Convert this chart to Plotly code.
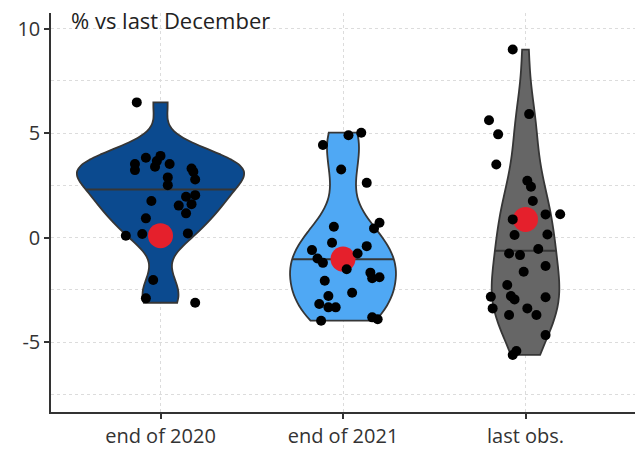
import numpy as np
import plotly.graph_objects as go

# ---------------- data ----------------
categories = ["end of 2020", "end of 2021", "last obs."]

values_2020 = [6.47, 3.82, 3.91, 3.52, 3.23, 3.66, 3.39, 3.52, 3.31, 3.15, 2.78, 2.88, 2.51,
               1.75, 1.95, 2.03, 1.53, 1.60, 1.16, 0.92, 0.09, 0.17, 0.20, -2.03, -2.91, -3.12]
jitter_2020 = [-0.13, -0.08, 0.00, -0.14, -0.14, -0.02, -0.03, 0.05, 0.17, 0.18, 0.19, 0.04, 0.04,
               -0.05, 0.14, 0.19, 0.10, 0.17, 0.14, -0.08, -0.19, -0.10, 0.15, -0.04, -0.08, 0.19]

values_2021 = [4.43, 4.90, 5.02, 3.26, 2.62, 0.52, 0.71, 0.44, -0.25, -0.60, -0.41, -0.76, -1.00,
               -1.21, -1.52, -1.68, -1.95, -1.90, -2.07, -2.64, -2.80, -3.18, -3.34, -3.34, -3.98,
               -3.82, -3.91]
jitter_2021 = [-0.11, 0.03, 0.10, -0.01, 0.13, -0.05, 0.20, 0.17, -0.06, -0.17, 0.13, 0.08, -0.14,
               -0.11, 0.02, 0.15, 0.16, 0.20, -0.10, 0.05, -0.08, -0.13, -0.08, -0.04, -0.12,
               0.16, 0.19]

values_last = [9.00, 5.91, 5.62, 4.94, 3.50, 2.72, 2.43, 1.75, 0.87, 1.11, 1.12, 0.12, 0.15, -0.55,
               -0.76, -0.84, -1.36, -1.64, -2.27, -2.83, -2.80, -2.96, -2.86, -3.39, -3.39, -3.71,
               -3.71, -4.67, -5.43, -5.62]
jitter_last = [-0.07, 0.02, -0.20, -0.15, -0.16, 0.01, 0.03, 0.04, -0.07, 0.11, 0.19, -0.06, 0.12,
               0.07, -0.09, -0.03, 0.11, -0.01, -0.10, -0.19, -0.08, -0.06, 0.11, -0.18, 0.01,
               -0.09, 0.06, 0.11, -0.05, -0.07]

highlight = [0.09, -1.03, 0.87]   # red dots

groups = [values_2020, values_2021, values_last]
jitters = [jitter_2020, jitter_2021, jitter_last]

# styles
fills = ["#0B4A8F", "#4FA8F4", "#666666"]
violin_widths = [0.913, 0.58, 0.37]   # max violin width (x units) per category


# ---------------- helpers (ggplot-like violin statistics) ----------------
def bw_nrd0(v):
    v = np.asarray(v, float)
    sd = v.std(ddof=1)
    iqr = np.subtract(*np.percentile(v, [75, 25]))
    lo = min(sd, iqr / 1.34)
    return 0.9 * lo * len(v) ** (-0.2)


def kde(v, bw, t):
    v = np.asarray(v, float)
    z = (t[:, None] - v[None, :]) / bw
    return np.exp(-0.5 * z ** 2).sum(axis=1) / (len(v) * bw * np.sqrt(2 * np.pi))


stats = []
for v in groups:
    bw = bw_nrd0(v)
    grid = np.linspace(min(v), max(v), 512)
    d = kde(v, bw, grid)
    cdf = np.cumsum(d) / d.sum()
    med = float(np.interp(0.5, cdf, grid))
    stats.append(dict(bw=bw, maxk=d.max(), med=med, kmed=float(kde(v, bw, np.array([med]))[0])))

fig = go.Figure()

# violins
for i, v in enumerate(groups):
    s = stats[i]
    w = violin_widths[i]
    s["w"] = w
    fig.add_trace(go.Violin(
        y=v, x0=i, width=w, bandwidth=s["bw"], spanmode="hard",
        fillcolor=fills[i], line=dict(color="#363636", width=1.8),
        points=False, box_visible=False, meanline_visible=False,
        opacity=1, showlegend=False, hoverinfo="skip"))

# median lines
for i, s in enumerate(stats):
    half = s["kmed"] * (s["w"] / 2) / s["maxk"]
    fig.add_trace(go.Scatter(
        x=[i - half, i + half], y=[s["med"], s["med"]], mode="lines",
        line=dict(color="#363636", width=2), showlegend=False, hoverinfo="skip"))

# red dots
fig.add_trace(go.Scatter(
    x=list(range(len(categories))), y=highlight, mode="markers",
    marker=dict(color="#E5202C", size=25, line=dict(width=0)),
    showlegend=False, hoverinfo="skip"))

# jittered points
for i, (v, j) in enumerate(zip(groups, jitters)):
    fig.add_trace(go.Scatter(
        x=[i + o for o in j], y=v, mode="markers",
        marker=dict(color="black", size=10, line=dict(width=0)),
        showlegend=False, hoverinfo="skip"))

font_family = "Open Sans, sans-serif"
grid_col = "#DCDCDC"
fig.update_layout(
    width=642, height=449,
    margin=dict(l=51, r=7, t=13, b=37, autoexpand=False),
    paper_bgcolor="white", plot_bgcolor="white",
    violinmode="overlay",
    font=dict(family=font_family, size=20, color="#333333"),
    xaxis=dict(
        range=[-0.6, 2.6], tickvals=[0, 1, 2], ticktext=categories, automargin=False,
        showgrid=True, gridcolor=grid_col, griddash="dot", gridwidth=1,
        showline=True, linecolor="#333333", linewidth=1.5,
        ticks="outside", ticklen=5, tickwidth=2, tickcolor="#333333",
        zeroline=False, tickfont=dict(size=20, color="#333333")),
    yaxis=dict(
        range=[-8.35, 10.75], tickvals=[-5, 0, 5, 10], ticktext=["-5", "0", "5", "10"],
        automargin=False,
        showgrid=True, gridcolor=grid_col, griddash="dot", gridwidth=1,
        minor=dict(tickvals=[-7.5, -2.5, 2.5, 7.5], showgrid=True,
                   gridcolor=grid_col, griddash="dot", gridwidth=1),
        showline=True, linecolor="#333333", linewidth=1.5,
        ticks="outside", ticklen=5, tickwidth=2, tickcolor="#333333",
        zeroline=False, tickfont=dict(size=20, color="#333333")),
    annotations=[dict(
        text="% vs last December", xref="paper", yref="paper",
        x=0.03, y=0.983, xanchor="left", yanchor="middle", showarrow=False,
        font=dict(family=font_family, size=22, color="#222222"))],
)

fig.write_html("out.html")
